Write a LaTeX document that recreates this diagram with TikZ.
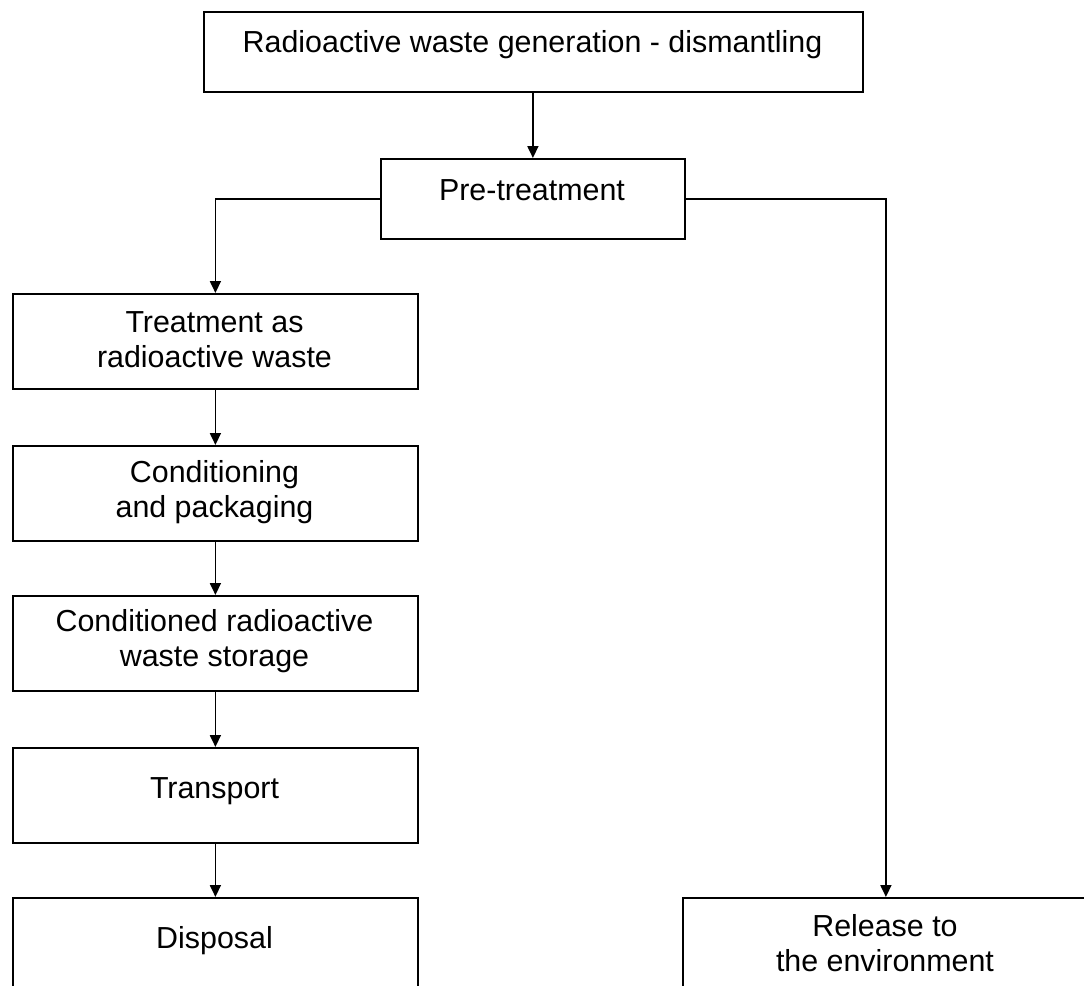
\documentclass[tikz,border=0pt]{standalone}
\usepackage{fontspec}
\setmainfont{Liberation Sans}
\usetikzlibrary{arrows.meta}
\begin{document}
\begin{tikzpicture}[x=1pt,y=-1pt,
  box/.style={draw, line width=1.8pt, inner sep=0pt, anchor=north west},
  lbl/.style={anchor=base, align=center, inner sep=0pt,
    font=\fontsize{30.4}{34.5}\selectfont},
  flow/.style={line width=1.8pt, -{Triangle[length=12pt,width=11pt]}}]
\useasboundingbox (0,0) rectangle (1084,985);
\clip (0,0) rectangle (1084,985);

% upper part (labels anchored at the baseline of their last line)
\node[box, minimum width=659pt, minimum height=80pt] (gen) at (203,11) {};
\node[lbl] (genT) at (532.5,52) {Radioactive waste generation - dismantling};
\node[box, minimum width=304pt, minimum height=80pt] (pre) at (380,158) {};
\node[lbl] (preT) at (532,200) {Pre-treatment};

% radioactive waste route
\node[box, minimum width=405pt, minimum height=95pt] (treat) at (12,293) {};
\node[lbl] (treatT) at (214.5,367) {Treatment as\\radioactive waste};
\node[box, minimum width=405pt, minimum height=95pt] (cond) at (12,445) {};
\node[lbl] (condT) at (214.5,517) {Conditioning\\and packaging};
\node[box, minimum width=405pt, minimum height=95pt] (store) at (12,595) {};
\node[lbl] (storeT) at (214.5,666) {Conditioned radioactive\\waste storage};
\node[box, minimum width=405pt, minimum height=95pt] (trans) at (12,747) {};
\node[lbl] (transT) at (214.5,798) {Transport};
\node[box, minimum width=405pt, minimum height=95pt] (disp) at (12,897) {};
\node[lbl] (dispT) at (214.5,948) {Disposal};

% release route
\node[box, minimum width=406pt, minimum height=95pt] (rel) at (682,897) {};
\node[lbl] (relT) at (885,971) {Release to\\the environment};

% connectors
\draw[flow] (pre.north |- gen.south) -- (pre.north);
\draw[flow] (pre.west) -| (treat.north);
\draw[flow] (pre.east) -| (rel.north);
\draw[flow] (treat.south) -- (cond.north);
\draw[flow] (cond.south) -- (store.north);
\draw[flow] (store.south) -- (trans.north);
\draw[flow] (trans.south) -- (disp.north);
\end{tikzpicture}
\end{document}
